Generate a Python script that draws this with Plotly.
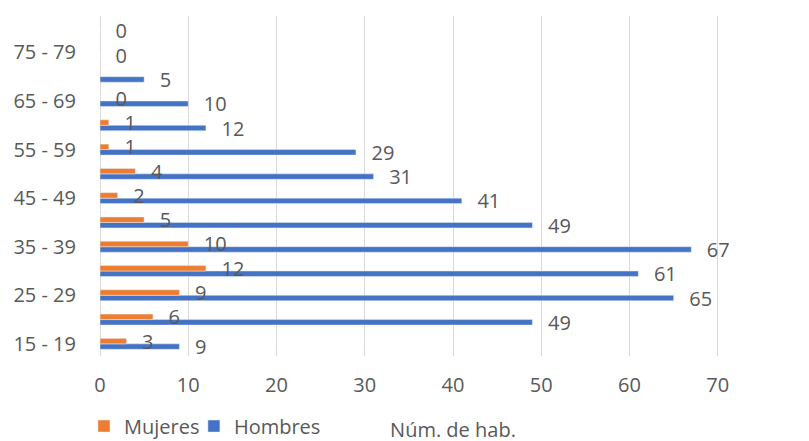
import plotly.graph_objects as go

# age groups, bottom to top
grupos = ['15 - 19', '20 - 24', '25 - 29', '30 - 34', '35 - 39', '40 - 44', '45 - 49',
          '50 - 54', '55 - 59', '60 - 64', '65 - 69', '70 - 74', '75 - 79', '80 - 84']
mujeres = [3, 6, 9, 12, 10, 5, 2, 4, 1, 1, 0, None, None, None]
hombres = [9, 49, 65, 61, 67, 49, 41, 31, 29, 12, 10, 5, 0, 0]
etiquetas_y = grupos[::2]
ticks_x = [0, 10, 20, 30, 40, 50, 60, 70, 80]

gris = '#595959'
fuente = 'Open Sans, Liberation Sans, sans-serif'
pad = '\u00a0\u00a0\u00a0'

fig = go.Figure()

# Hombres first so it sits below Mujeres inside each group
fig.add_trace(go.Bar(
    y=grupos, x=hombres, name='Hombres', orientation='h',
    marker_color='#4472C4', legend='legend2',
    texttemplate=pad + '%{x}', textposition='outside',
    textfont={'size': 20, 'color': gris, 'family': fuente},
    constraintext='none', cliponaxis=False,
))
fig.add_trace(go.Bar(
    y=grupos, x=mujeres, name='Mujeres', orientation='h',
    marker_color='#ED7D31', legend='legend',
    texttemplate=pad + '%{x}', textposition='outside',
    textfont={'size': 20, 'color': gris, 'family': fuente},
    constraintext='none', cliponaxis=False,
))

leyenda = {
    'orientation': 'h',
    'xanchor': 'left',
    'y': -0.206, 'yanchor': 'middle',
    'font': {'size': 20, 'color': gris},
    'itemwidth': 30,
    'bgcolor': 'rgba(0,0,0,0)',
}

# the page shifts the figure 8px to the right, so it is kept 8px narrower
fig.update_layout(
    width=801, height=441,
    margin={'l': 92, 'r': 3, 't': 8, 'b': 83},
    plot_bgcolor='white',
    paper_bgcolor='white',
    barmode='group',
    bargap=0.55,
    bargroupgap=0,
    font={'family': fuente, 'size': 20, 'color': gris},
    showlegend=True,
    legend={**leyenda, 'x': -0.0227},
    legend2={**leyenda, 'x': 0.133},
    xaxis={
        'range': [0, 80],
        'tickvals': ticks_x,
        'showgrid': True,
        'gridcolor': '#D9D9D9',
        'gridwidth': 1,
        'zeroline': True,
        'zerolinecolor': '#D9D9D9',
        'zerolinewidth': 1,
        'showline': False,
        'ticks': 'outside',
        'ticklen': 11,
        'tickcolor': 'rgba(0,0,0,0)',
        'tickfont': {'size': 20, 'color': gris},
        'automargin': False,
        'title': {'text': 'Núm. de hab.', 'font': {'size': 20, 'color': gris}, 'standoff': 25},
        'fixedrange': True,
    },
    yaxis={
        'type': 'category',
        'categoryorder': 'array',
        'categoryarray': grupos,
        'tickvals': etiquetas_y,
        'showgrid': False,
        'showline': False,
        'zeroline': False,
        'ticks': 'outside',
        'ticklen': 19,
        'tickcolor': 'rgba(0,0,0,0)',
        'tickfont': {'size': 20, 'color': gris},
        'automargin': False,
        'range': [-0.5, len(grupos) - 0.5],
        'fixedrange': True,
    },
)

fig.write_html('out.html', config={'displayModeBar': False})
